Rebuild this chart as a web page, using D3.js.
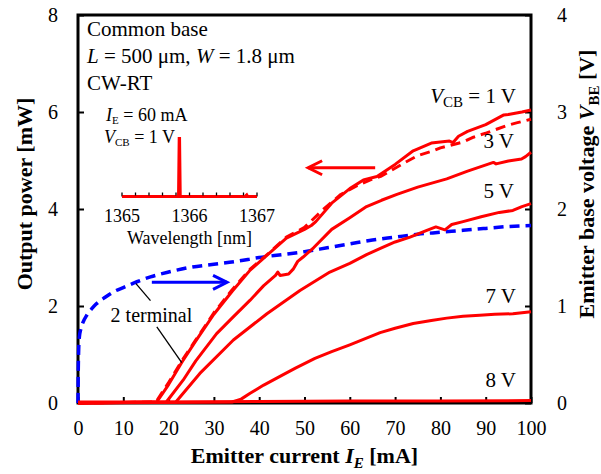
<!DOCTYPE html>
<html>
<head>
<meta charset="utf-8">
<script src="https://cdn.jsdelivr.net/npm/d3@7"></script>
<style>
  html, body { margin: 0; padding: 0; background: #fff; }
  svg text { font-family: "Liberation Serif", "Times New Roman", serif; fill: #000; }
</style>
</head>
<body>
<svg id="chart" width="601" height="474" font-family="Liberation Serif, Times New Roman, serif"></svg>
<script>
// Light output vs emitter current for several collector-base voltages (left axis, mW)
const current1V = [0, 17.4, 20, 23, 26, 30, 34, 38, 42, 46, 50, 51.5, 52.5, 56, 60, 63, 66, 70, 74, 78, 82, 82.8, 84, 86, 90, 94, 95, 98, 100];
const power1V   = [0, 0.02, 0.38, 0.85, 1.28, 1.83, 2.3, 2.74, 3.07, 3.4, 3.58, 3.66, 3.74, 4.12, 4.42, 4.6, 4.67, 4.92, 5.2, 5.36, 5.4, 5.37, 5.5, 5.6, 5.74, 5.94, 5.95, 6.0, 6.04];

const currentTwoTerm = [0, 17.2, 20, 23, 26, 30, 34, 38, 42, 46, 50, 54, 58, 62, 65, 67, 69.6, 72, 75, 78.4, 80, 82.9, 85, 87.3, 90.2, 94.6, 97, 100];
const powerTwoTerm   = [0, 0.02, 0.42, 0.88, 1.3, 1.86, 2.33, 2.76, 3.08, 3.42, 3.62, 3.98, 4.3, 4.5, 4.62, 4.68, 4.82, 4.95, 5.1, 5.2, 5.26, 5.33, 5.38, 5.48, 5.57, 5.72, 5.78, 5.85];

const current3V = [0, 19.5, 23.2, 26, 30.6, 34, 38, 41, 43.6, 44.1, 44.6, 46.5, 47.5, 48.5, 49.7, 52, 56, 60, 63.7, 67, 70.4, 75, 81.4, 86, 91.7, 92.3, 95, 97.9, 98.8, 100];
const power3V   = [0, 0.02, 0.47, 0.87, 1.43, 1.75, 2.12, 2.42, 2.63, 2.7, 2.63, 2.66, 2.76, 2.92, 3.01, 3.2, 3.58, 3.82, 4.05, 4.18, 4.3, 4.45, 4.62, 4.78, 4.96, 4.93, 4.99, 5.03, 5.08, 5.17];

const current5V = [0, 21.6, 26.9, 34.3, 41.7, 49, 55.6, 60, 63.7, 67, 70, 73.3, 77, 79, 81, 82.5, 85, 89, 93, 96, 98, 100];
const power5V   = [0, 0.02, 0.61, 1.3, 1.84, 2.32, 2.7, 2.88, 3.06, 3.2, 3.32, 3.42, 3.56, 3.63, 3.57, 3.68, 3.74, 3.84, 3.93, 3.97, 4.05, 4.11];

const current7V = [0, 34, 36, 38, 41, 45, 48, 52.3, 56, 60, 63, 66.7, 70, 74, 78, 81.4, 85, 88.7, 92, 96, 98, 100];
const power7V   = [0, 0.02, 0.08, 0.2, 0.37, 0.57, 0.72, 0.92, 1.06, 1.2, 1.31, 1.45, 1.54, 1.64, 1.7, 1.75, 1.79, 1.81, 1.83, 1.84, 1.86, 1.88];

const current8V = [0, 20, 40, 60, 80, 100];
const power8V   = [0.02, 0.02, 0.03, 0.04, 0.04, 0.05];

// Emitter-base voltage of the two-terminal device (right axis, V)
const currentVbe = [0, 0.05, 0.15, 0.3, 0.6, 1, 2, 3, 4, 6, 8, 10, 13, 16, 20, 25, 30, 35, 40, 45, 50, 55, 60, 65, 70, 75, 80, 85, 90, 95, 100];
const voltageVbe = [0, 0.3, 0.55, 0.68, 0.76, 0.82, 0.91, 0.97, 1.02, 1.09, 1.15, 1.19, 1.25, 1.3, 1.35, 1.4, 1.43, 1.46, 1.5, 1.53, 1.56, 1.6, 1.64, 1.68, 1.71, 1.74, 1.76, 1.78, 1.8, 1.82, 1.83];

// Inset lasing spectrum at IE = 60 mA, VCB = 1 V (normalised intensity)
const wavelength = [1365, 1365.8, 1365.83, 1365.84, 1365.86, 1365.87, 1365.88, 1365.9, 1366.8, 1366.83, 1366.85, 1366.87, 1367];
const intensity  = [0, 0, 0.02, 1, 1, 0.02, 0, 0, 0, 0.02, 0.04, 0, 0];

// Tick values
const currentTicks = [0, 10, 20, 30, 40, 50, 60, 70, 80, 90, 100];
const powerTicks = [0, 2, 4, 6, 8];
const voltageTicks = [0, 1, 2, 3, 4];
const wavelengthTicks = [1365, 1366, 1367];
const wavelengthMinorTicks = d3.range(0, 11).map(i => 1365 + i * 0.2);

const svg = d3.select("#chart");
const plotLeft = 78, plotRight = 531, plotTop = 15, plotBottom = 403;

const x = d3.scaleLinear().domain([0, 100]).range([plotLeft, plotRight]);
const yP = d3.scaleLinear().domain([0, 8]).range([plotBottom, plotTop]);
const yV = d3.scaleLinear().domain([0, 4]).range([plotBottom, plotTop]);

const red = "#ff0000", blue = "#0000ff";
const serif = "Liberation Serif, Times New Roman, serif";

// Axes: ticks pointing inward, labels outside
const xAxis = d3.axisBottom(x).tickValues(currentTicks).tickSize(-6).tickPadding(16).tickFormat(d3.format("d"));
const yLeft = d3.axisLeft(yP).tickValues(powerTicks).tickSize(-6).tickPadding(20).tickFormat(d3.format("d"));
const yRight = d3.axisRight(yV).tickValues(voltageTicks).tickSize(-6).tickPadding(26).tickFormat(d3.format("d"));

function styleAxis(g) {
  g.attr("font-family", serif);
  g.select(".domain").remove();
  g.selectAll(".tick line").attr("stroke", "#000").attr("stroke-width", 2);
  g.selectAll(".tick text").attr("font-size", 20);
}
svg.append("g").attr("transform", `translate(0,${plotBottom})`).call(xAxis).call(styleAxis)
  .selectAll(".tick text").attr("dy", "0.8em");
svg.append("g").attr("transform", `translate(${plotLeft},0)`).call(yLeft).call(styleAxis);
svg.append("g").attr("transform", `translate(${plotRight},0)`).call(yRight).call(styleAxis);

// Plot frame
svg.append("rect").attr("x", plotLeft).attr("y", plotTop).attr("width", plotRight - plotLeft).attr("height", plotBottom - plotTop)
  .attr("fill", "none").attr("stroke", "#000").attr("stroke-width", 3);

// Curves
const lineP = d3.line().x(d => x(d[0])).y(d => yP(d[1]));
const lineV = d3.line().x(d => x(d[0])).y(d => yV(d[1])).curve(d3.curveMonotoneX);
const zip = (a, b) => a.map((v, i) => [v, b[i]]);

const powerSeries = [
  { I: current8V, P: power8V, dash: null },
  { I: current7V, P: power7V, dash: null },
  { I: current5V, P: power5V, dash: null },
  { I: current3V, P: power3V, dash: null },
  { I: currentTwoTerm, P: powerTwoTerm, dash: "10,6" },
  { I: current1V, P: power1V, dash: null }
];
svg.append("path").datum(zip(currentVbe, voltageVbe)).attr("d", lineV)
  .attr("fill", "none").attr("stroke", blue).attr("stroke-width", 3.5).attr("stroke-dasharray", "10,6");
powerSeries.forEach(s => {
  svg.append("path").datum(zip(s.I, s.P)).attr("d", lineP)
    .attr("fill", "none").attr("stroke", red).attr("stroke-width", 3)
    .attr("stroke-linejoin", "round")
    .attr("stroke-dasharray", s.dash);
});

// Arrows showing which axis each family belongs to
function arrow(x1, x2, y, color) {
  const g = svg.append("g").attr("stroke", color).attr("stroke-width", 3).attr("fill", "none");
  g.append("line").attr("x1", x1).attr("x2", x2).attr("y1", y).attr("y2", y);
  const s = Math.sign(x2 - x1);
  g.append("path").attr("d", `M${x2 - s * 14},${y - 7}L${x2},${y}L${x2 - s * 14},${y + 7}`);
}
arrow(x(65.6), x(50.8), yP(4.85), red);
arrow(x(16.3), x(32.9), yV(1.244), blue);

// "2 terminal" label with leader lines
svg.append("text").attr("x", x(7.2)).attr("y", yP(1.68)).attr("font-size", 20).text("2 terminal");
svg.append("line").attr("x1", x(12.8)).attr("y1", yV(1.23)).attr("x2", x(16.0)).attr("y2", yP(2.11))
  .attr("stroke", "#000").attr("stroke-width", 1.3);
svg.append("line").attr("x1", x(17.4)).attr("y1", yP(1.57)).attr("x2", x(22.9)).attr("y2", yP(0.83))
  .attr("stroke", "#000").attr("stroke-width", 1.3);

// Condition text, top-left
const info = svg.append("g").attr("font-size", 21);
info.append("text").attr("x", 87).attr("y", 36).text("Common base");
const t2 = info.append("text").attr("x", 87).attr("y", 63);
t2.append("tspan").attr("font-style", "italic").text("L");
t2.append("tspan").text(" = 500 μm, ");
t2.append("tspan").attr("font-style", "italic").text("W");
t2.append("tspan").text(" = 1.8 μm");
info.append("text").attr("x", 87).attr("y", 90).text("CW-RT");

// Curve labels
const lab = svg.append("g").attr("font-size", 21).attr("text-anchor", "end");
const l1 = lab.append("text").attr("x", 516).attr("y", 103);
l1.append("tspan").attr("font-style", "italic").text("V");
l1.append("tspan").attr("font-size", 15).attr("dy", 4).text("CB");
l1.append("tspan").attr("dy", -4).text(" = 1 V");
lab.append("text").attr("x", 514).attr("y", 148).text("3 V");
lab.append("text").attr("x", 514).attr("y", 198).text("5 V");
lab.append("text").attr("x", 516).attr("y", 303).text("7 V");
lab.append("text").attr("x", 516).attr("y", 387).text("8 V");

// Axis titles
const xt = svg.append("text").attr("x", (plotLeft + plotRight) / 2).attr("y", 463).attr("text-anchor", "middle")
  .attr("font-size", 22).attr("font-weight", "bold");
xt.append("tspan").text("Emitter current ");
xt.append("tspan").attr("font-style", "italic").text("I");
xt.append("tspan").attr("font-style", "italic").attr("font-size", 15).attr("dy", 5).text("E");
xt.append("tspan").attr("dy", -5).text(" [mA]");

svg.append("text").attr("transform", `translate(32,${(plotTop + plotBottom) / 2 - 15}) rotate(-90)`)
  .attr("text-anchor", "middle").attr("font-size", 22).attr("font-weight", "bold").text("Output power [mW]");

const yt = svg.append("text").attr("transform", `translate(594,${(plotTop + plotBottom) / 2 - 25}) rotate(-90)`)
  .attr("text-anchor", "middle").attr("font-size", 22).attr("font-weight", "bold");
yt.append("tspan").text("Emitter base voltage ");
yt.append("tspan").attr("font-style", "italic").text("V");
yt.append("tspan").attr("font-size", 15).attr("dy", 5).text("BE");
yt.append("tspan").attr("dy", -5).text(" [V]");

// Inset spectrum
const xs = d3.scaleLinear().domain([1365, 1367]).range([122, 257]);
const ys = d3.scaleLinear().domain([0, 1]).range([196.5, 138]);
const inset = svg.append("g");
inset.append("line").attr("x1", xs(1365)).attr("x2", xs(1367)).attr("y1", ys(0)).attr("y2", ys(0))
  .attr("stroke", red).attr("stroke-width", 3);
inset.selectAll(".minor").data(wavelengthMinorTicks).enter().append("line")
  .attr("x1", d => xs(d)).attr("x2", d => xs(d)).attr("y1", ys(0)).attr("y2", ys(0) - 4)
  .attr("stroke", "#000").attr("stroke-width", 1.3);
inset.append("path").datum(zip(wavelength, intensity))
  .attr("d", d3.line().x(d => xs(d[0])).y(d => ys(d[1])))
  .attr("fill", red).attr("stroke", red).attr("stroke-width", 2);
inset.selectAll(".wl").data(wavelengthTicks).enter().append("text")
  .attr("x", d => xs(d)).attr("y", 222).attr("text-anchor", "middle").attr("font-size", 18).text(d => d);
inset.append("text").attr("x", xs(1366)).attr("y", 244).attr("text-anchor", "middle").attr("font-size", 18)
  .text("Wavelength [nm]");
const it1 = inset.append("text").attr("x", 106).attr("y", 121).attr("font-size", 18);
it1.append("tspan").attr("font-style", "italic").text("I");
it1.append("tspan").attr("font-size", 11).attr("dy", 3).text("E");
it1.append("tspan").attr("dy", -3).text(" = 60 mA");
const it2 = inset.append("text").attr("x", 104).attr("y", 143).attr("font-size", 18);
it2.append("tspan").attr("font-style", "italic").text("V");
it2.append("tspan").attr("font-size", 11).attr("dy", 3).text("CB");
it2.append("tspan").attr("dy", -3).text(" = 1 V");
</script>
</body>
</html>
